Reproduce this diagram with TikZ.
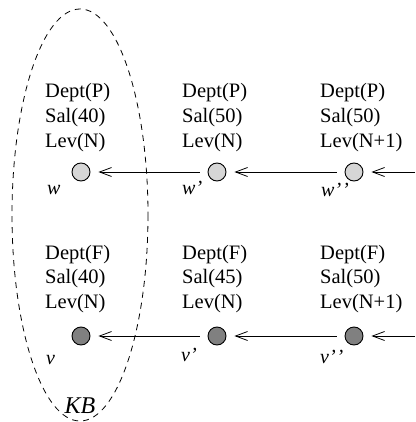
\documentclass[tikz,border=0pt]{standalone}
\usepackage{fontspec}
\setmainfont{Liberation Serif}
\usetikzlibrary{arrows.meta}
\definecolor{lightnode}{HTML}{D6D6D6}
\definecolor{darknode}{HTML}{808080}
\tikzset{
  attr/.style={anchor=base west, inner sep=0pt, font=\fontsize{20.5}{24}\selectfont},
  lbl/.style={anchor=base west, inner sep=0pt, font=\fontsize{20}{24}\selectfont\itshape},
  pnode/.style={circle, draw, line width=0.9pt, minimum size=18pt, inner sep=0pt, fill=lightnode},
  fnode/.style={circle, draw, line width=0.9pt, minimum size=18pt, inner sep=0pt, fill=darknode},
  arr/.style={-{Straight Barb[length=12pt,width=9pt]}, line width=0.8pt, shorten >=8pt, shorten <=8pt},
  kb/.style={dash pattern=on 6pt off 5pt, line width=0.8pt}
}
\begin{document}
\begin{tikzpicture}[x=1pt,y=-1pt]
\useasboundingbox (0,0) rectangle (415,422);
% KB ellipse
\draw[kb] (80,215) ellipse [x radius=68, y radius=206];
\node[anchor=base, inner sep=0pt, font=\fontsize{24}{28}\selectfont\itshape] (kbl) at (80,413) {KB};
% top row
\node[attr] (tp1a) at (45,98) {Dept(P)};
\node[attr] (tp1b) at (45,122.5) {Sal(40)};
\node[attr] (tp1c) at (45,147) {Lev(N)};
\node[attr] (tp2a) at (182,98) {Dept(P)};
\node[attr] (tp2b) at (182,122.5) {Sal(50)};
\node[attr] (tp2c) at (182,147) {Lev(N)};
\node[attr] (tp3a) at (320,98) {Dept(P)};
\node[attr] (tp3b) at (320,122.5) {Sal(50)};
\node[attr] (tp3c) at (320,147) {Lev(N+1)};
\node[pnode] (w1) at (81,172) {};
\node[pnode] (w2) at (217,172) {};
\node[pnode] (w3) at (354,172) {};
\coordinate (w4) at (415,172);
\node[lbl] (lw1) at (47,194) {w};
\node[lbl] (lw2) at (182,194) {w'};
\node[lbl] (lw3) at (321,196) {w{'}\kern1pt{'}};
\draw[arr] (w2) -- (w1);
\draw[arr] (w3) -- (w2);
\draw[arr, shorten <=0pt] (w4) -- (w3);
% bottom row
\node[attr] (bt1a) at (45,259) {Dept(F)};
\node[attr] (bt1b) at (45,283.5) {Sal(40)};
\node[attr] (bt1c) at (45,308) {Lev(N)};
\node[attr] (bt2a) at (182,259) {Dept(F)};
\node[attr] (bt2b) at (182,283.5) {Sal(45)};
\node[attr] (bt2c) at (182,308) {Lev(N)};
\node[attr] (bt3a) at (320,259) {Dept(F)};
\node[attr] (bt3b) at (320,283.5) {Sal(50)};
\node[attr] (bt3c) at (320,308) {Lev(N+1)};
\node[fnode] (v1) at (81,336) {};
\node[fnode] (v2) at (217,336) {};
\node[fnode] (v3) at (354,336) {};
\coordinate (v4) at (415,336);
\node[lbl] (lv1) at (46,364) {v};
\node[lbl] (lv2) at (181,361) {v'};
\node[lbl] (lv3) at (320,363) {v{'}\kern1pt{'}};
\draw[arr] (v2) -- (v1);
\draw[arr] (v3) -- (v2);
\draw[arr, shorten <=0pt] (v4) -- (v3);
\end{tikzpicture}
\end{document}
